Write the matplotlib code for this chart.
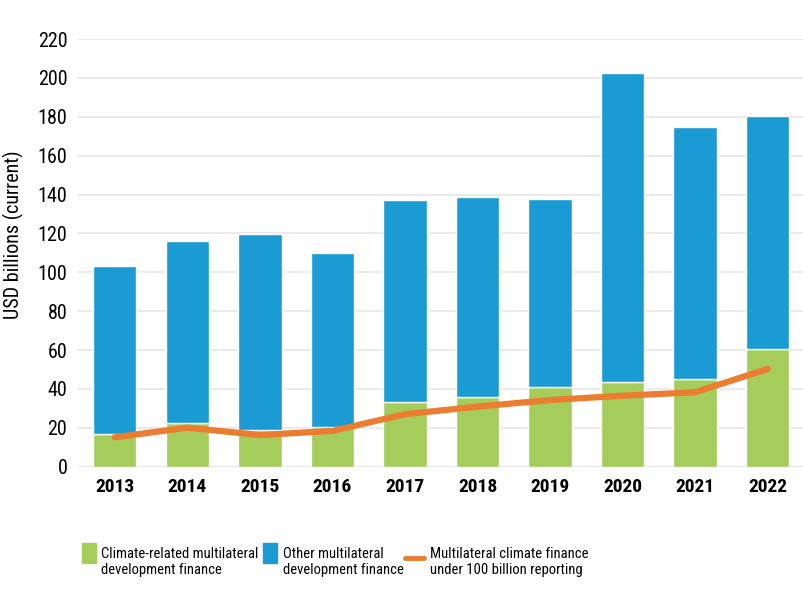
import numpy as np
import matplotlib
matplotlib.use("Agg")
import matplotlib.pyplot as plt
from matplotlib.patches import Rectangle
from matplotlib.lines import Line2D

plt.rcParams['font.family'] = ['Roboto Condensed', 'Liberation Sans', 'DejaVu Sans']

# data (USD billions, current)
years = ['2013', '2014', '2015', '2016', '2017', '2018', '2019', '2020', '2021', '2022']
climate_related = [16.7, 22.3, 18.9, 20.3, 33.4, 36.0, 41.2, 43.6, 45.0, 60.5]
total_finance = [103, 116, 119.5, 109.8, 137.2, 138.9, 137.9, 202.4, 174.9, 180.6]
other_finance = [t - c for t, c in zip(total_finance, climate_related)]
under_100bn = [15.1, 20.1, 16.3, 18.4, 27.0, 30.9, 34.3, 36.5, 38.3, 50.3]

green = '#a5cd5c'
blue = '#1b9bd4'
orange = '#ec7c30'

fig = plt.figure(figsize=(8.04, 6.12), dpi=100)
ax = fig.add_axes([77/804, 1 - 466.7/612, 1 - 77/804, (466.7 - 39)/612])

x = np.arange(len(years))
ax.bar(x, climate_related, width=0.6, color=green, edgecolor='white', linewidth=1, zorder=2)
ax.bar(x, other_finance, width=0.6, bottom=climate_related, color=blue,
       edgecolor='white', linewidth=1, zorder=2)
ax.plot(x, under_100bn, color=orange, linewidth=4.5, solid_capstyle='round',
        solid_joinstyle='round', zorder=3)

ax.set_xlim(-0.52, 9.5)
ax.set_ylim(0, 220)
ax.set_yticks(np.arange(0, 221, 20))
ax.set_xticks(x)
ax.set_xticklabels(years, fontsize=14, fontweight='bold')
ax.tick_params(axis='y', labelsize=14.5, length=0, pad=7)
ax.tick_params(axis='x', length=0, pad=8)
ax.grid(axis='y', color='#ebebeb', linewidth=1.4, zorder=0)
ax.set_axisbelow(True)
for s in ax.spines.values():
    s.set_visible(False)

fig.text(13/804, 1 - 235/612, 'USD billions (current)', rotation=90,
         ha='center', va='center', fontsize=14.5)

# legend
leg_items = [
    ('patch', green, 81.7, 100.7, 'Climate-related multilateral\ndevelopment finance'),
    ('patch', blue, 263.3, 282.7, 'Other multilateral\ndevelopment finance'),
    ('line', orange, 405, 430, 'Multilateral climate finance\nunder 100 billion reporting'),
]
W, H = 804, 612
for kind, col, hx, tx, label in leg_items:
    if kind == 'patch':
        fig.patches.append(Rectangle((hx/W, 1 - 562.7/H), 14/W, 20/H,
                                     transform=fig.transFigure, color=col))
    else:
        fig.lines.append(Line2D([hx/W, (hx + 19)/W], [1 - 558.3/H]*2,
                                transform=fig.transFigure, color=col,
                                linewidth=3.5, solid_capstyle='round'))
    fig.text(tx/W, 1 - 561.7/H, label, ha='left', va='center',
             fontsize=10.5, linespacing=1.2)

fig.savefig('out.png', dpi=100)
